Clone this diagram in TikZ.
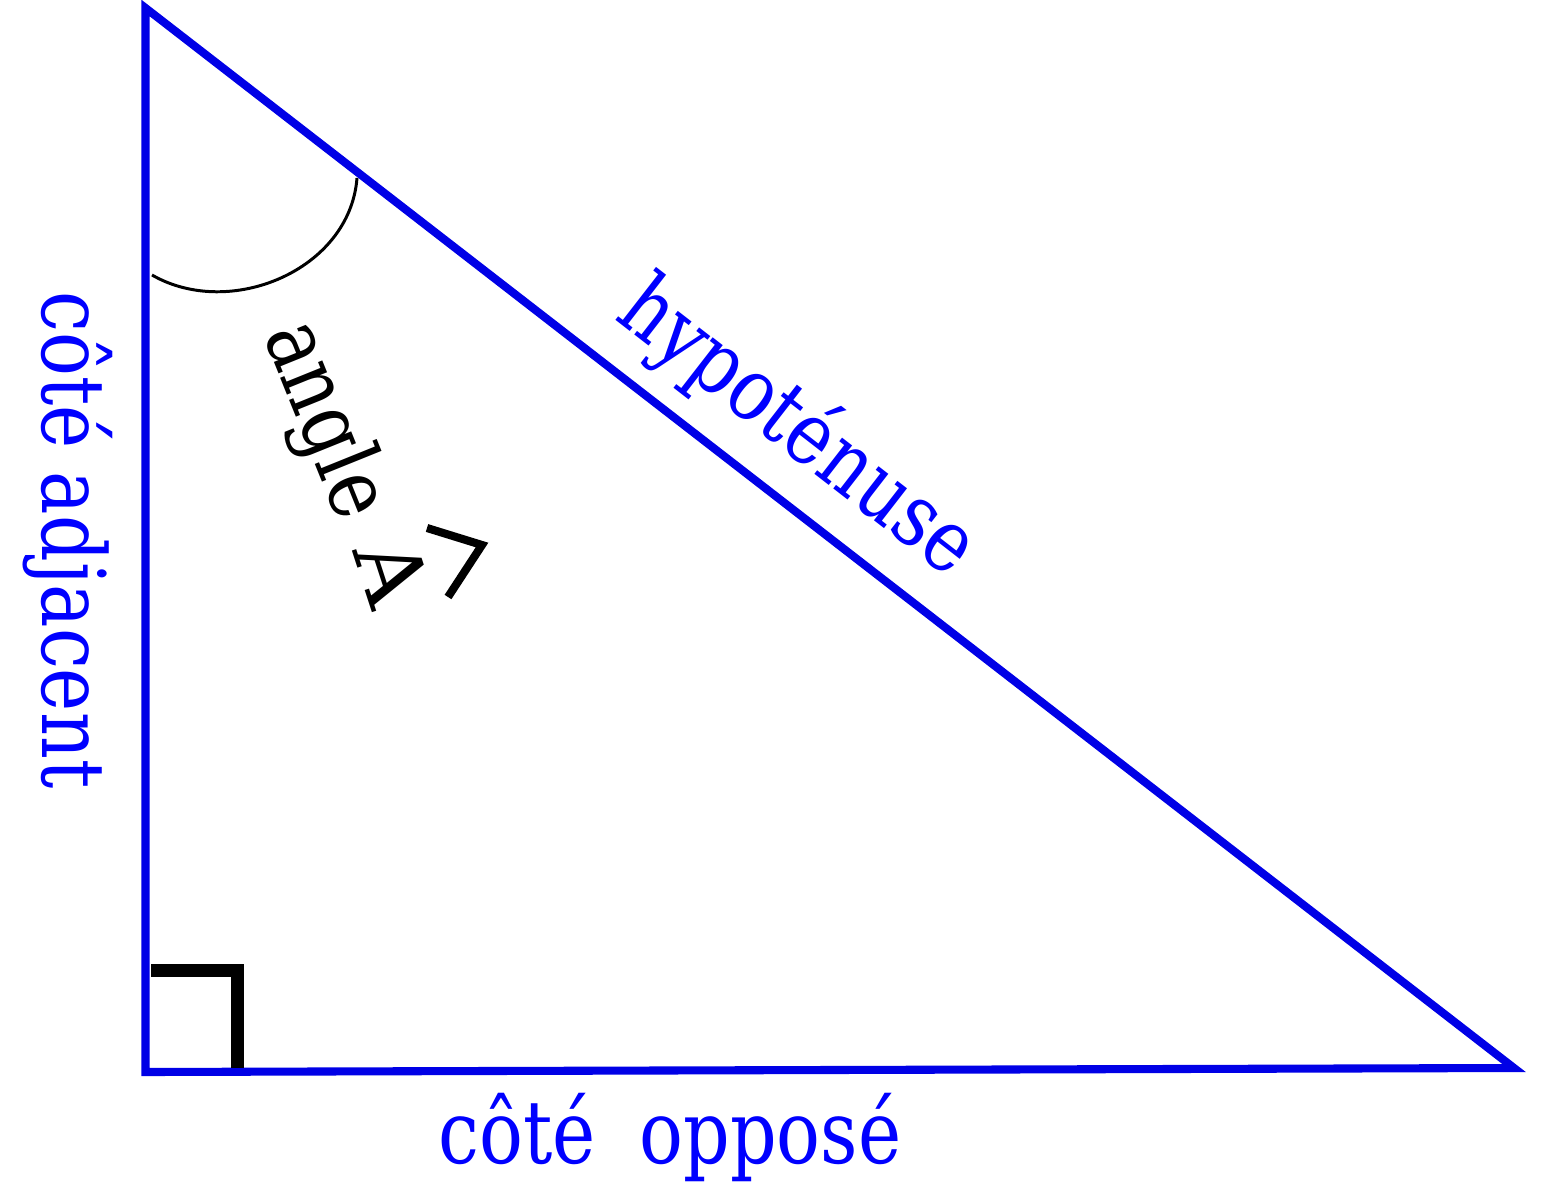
\documentclass[tikz,border=0pt]{standalone}
\usepackage{fontspec}
\setmainfont{DejaVu Serif}[FakeStretch=0.83]
\newfontfamily\wideserif{DejaVu Serif}
\usetikzlibrary{calc}

\definecolor{sideblue}{RGB}{0,0,230}
\definecolor{textblue}{RGB}{0,0,255}
\tikzset{
  side/.style={draw=sideblue, line width=2.3pt, line join=miter},
  lbl/.style={inner sep=0pt, font=\fontsize{25}{30}\selectfont},
}

\begin{document}
\begin{tikzpicture}
\useasboundingbox (0,0) rectangle (15.48,12);
\coordinate (T) at (1.455,11.92);
\coordinate (B) at (1.455,1.28);
\coordinate (R) at (15.14,1.32);
\draw[side] (T) -- (B) -- (R) -- cycle;
% right angle mark
\coordinate (q1) at (1.51,2.295);
\coordinate (q2) at (2.375,2.295);
\coordinate (q3) at (2.375,1.32);
\draw[line width=3.7pt] (q1) -- (q2) -- (q3);
% angle arc
\draw[line width=0.85pt] (1.52,9.25) .. controls (2.30,8.80) and (3.50,9.30) .. (3.57,10.22);
\path
(0.42,6.60) node[lbl, text=textblue, rotate=-90, anchor=base] (adj) {côté adjacent};
\path
(6.70,0.37) node[lbl, text=textblue, anchor=base] (opp) {côté\hspace{0.5em}opposé};
\path
(6.13,8.82) node[lbl, text=textblue, rotate=-37.8, anchor=base west] (hyp) {hypoténuse};
\path
(2.63,8.65) node[lbl, rotate=-68, anchor=base west] (ang) {angle};
\path
(3.93,6.28) node[lbl, rotate=-72, font=\fontsize{25}{30}\wideserif] (capA) {A};
\draw[line width=2.3pt] (4.27,6.72) -- (4.82,6.55) -- (4.48,6.03);
\end{tikzpicture}
\end{document}
